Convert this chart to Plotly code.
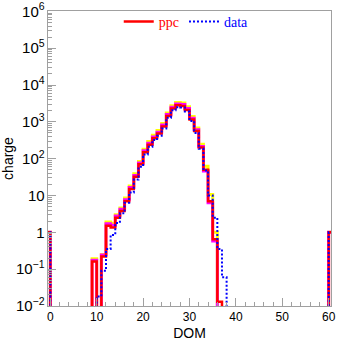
import numpy as np
import plotly.graph_objects as go

# bin lower edges (unit-width bins); bin i spans [lo, lo+1]
bin_lo = list(range(-1, 61))

# values per bin (0 = empty)
ppc = {-1: 1, 9: 0.16, 11: 0.22, 12: 1.5, 13: 1.35, 14: 2.5, 15: 3.8, 16: 7, 17: 15,
       18: 32, 19: 70, 20: 150, 21: 240, 22: 360, 23: 480, 24: 750, 25: 1450,
       26: 2300, 27: 2800, 28: 2700, 29: 2100, 30: 1150, 31: 560, 32: 200,
       33: 50, 34: 7, 35: 0.65, 36: 0.013, 60: 1}
ppc_hi = {-1: 1, 9: 0.19, 11: 0.25, 12: 1.9, 13: 1.75, 14: 3.0, 15: 4.6, 16: 8.5, 17: 18,
          18: 39, 19: 84, 20: 180, 21: 290, 22: 430, 23: 580, 24: 900, 25: 1750,
          26: 2750, 27: 3350, 28: 3250, 29: 2550, 30: 1400, 31: 680, 32: 245,
          33: 62, 34: 10.6, 35: 1.0, 60: 1}
ppc_lo = {-1: 1, 9: 0.175, 11: 0.24, 12: 1.7, 13: 1.55, 14: 2.75, 15: 4.2, 16: 7.7, 17: 16.5,
          18: 35, 19: 76, 20: 163, 21: 262, 22: 390, 23: 525, 24: 820, 25: 1580,
          26: 2500, 27: 3050, 28: 2950, 29: 2300, 30: 1260, 31: 610, 32: 215,
          33: 46, 34: 6.3, 35: 0.58, 60: 1}
data = {-1: 1, 10: 0.018, 11: 0.09, 12: 0.35, 13: 0.85, 14: 1.8, 15: 3.3, 16: 6.3, 17: 12,
        18: 27, 19: 60, 20: 130, 21: 210, 22: 320, 23: 420, 24: 660, 25: 1300,
        26: 2050, 27: 2500, 28: 2450, 29: 1900, 30: 1050, 31: 500, 32: 185,
        33: 48, 34: 10, 35: 2.5, 36: 0.35, 37: 0.06, 60: 1}

FLOOR = 1e-5


def step_xy(vals):
    xs = [bin_lo[0]]
    ys = [FLOOR]
    for lo in bin_lo:
        v = vals.get(lo, 0)
        xs.append(lo)
        ys.append(v if v > 0 else FLOOR)
    xs.append(bin_lo[-1] + 1)
    ys.append(FLOOR)
    return xs, ys


fig = go.Figure()
for vals, col, w, dash, name, show in [
    (ppc_hi, "#ffff00", 3, "solid", "hi", False),
    (ppc_lo, "#ff00ff", 3, "solid", "lo", False),
    (ppc, "#ff0000", 2.5, "solid", "<span style='color:#ff0000'>ppc</span>", True),
    (data, "#0000ff", 2, "2px,2px", "<span style='color:#0000ff'>data</span>", True),
]:
    xs, ys = step_xy(vals)
    fig.add_trace(go.Scatter(x=xs, y=ys, mode="lines", line_shape="hv",
                             line=dict(color=col, width=w, dash=dash),
                             name=name, showlegend=show, hoverinfo="skip"))

axcol = "#a0a0a0"
fig.update_layout(
    width=337, height=344,
    margin=dict(l=48, r=6, t=11, b=38, autoexpand=False),
    paper_bgcolor="white", plot_bgcolor="white",
    font=dict(family="Liberation Sans, Arial, sans-serif", size=12, color="black"),
    showlegend=True,
    legend=dict(orientation="h", x=0.25, y=0.963, xanchor="left", yanchor="middle",
                bgcolor="rgba(0,0,0,0)", itemwidth=30, tracegroupgap=0,
                font=dict(family="Liberation Serif, Times New Roman, serif", size=14)),
)
fig.update_xaxes(range=[-0.5, 60.5], tick0=0, dtick=10, ticks="inside", ticklen=8,
                 tickcolor=axcol, showline=True, linecolor=axcol, mirror=True,
                 showgrid=False, zeroline=False, automargin=False,
                 minor=dict(ticks="inside", dtick=2, ticklen=4, tickcolor=axcol, showgrid=False),
                 title=dict(text="DOM", standoff=4))
fig.update_yaxes(type="log", range=[-2.002, 6.01], dtick=1, tick0=0, ticks="inside", ticklen=8,
                 tickcolor=axcol, showline=True, linecolor=axcol, mirror=True,
                 showgrid=False, zeroline=False, exponentformat="power", automargin=False,
                 minor=dict(ticks="inside", dtick="D1", ticklen=4, tickcolor=axcol, showgrid=False),
                 title=dict(text="charge", standoff=6))

fig.write_html("out.html")
